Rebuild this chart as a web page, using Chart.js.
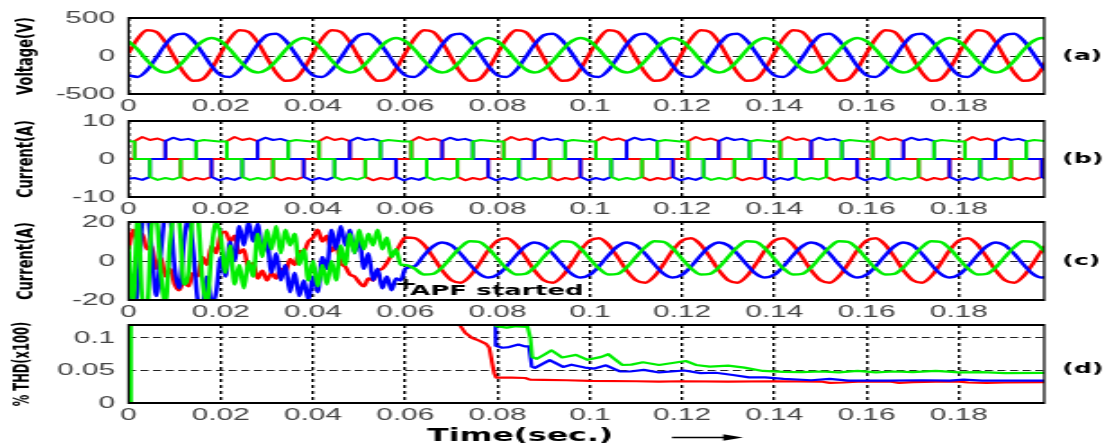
<!DOCTYPE html>
<html>
<head>
<meta charset="utf-8">
<title>APF waveforms</title>
<script src="https://cdn.jsdelivr.net/npm/chart.js@4/dist/chart.umd.min.js"></script>
<style>
  body { margin: 0; background: #fff; }
  #figure { position: relative; width: 1109px; height: 448px; overflow: hidden; background: #fff; }
  #figure canvas { position: absolute; left: 0; }
</style>
</head>
<body>
<div id="figure">
  <canvas id="panelA" width="616" height="116" style="top:0px;width:1109px;height:116px"></canvas>
  <canvas id="panelB" width="616" height="116" style="top:103px;width:1109px;height:116px"></canvas>
  <canvas id="panelC" width="616" height="118" style="top:204px;width:1109px;height:118px"></canvas>
  <canvas id="panelD" width="616" height="141" style="top:307px;width:1109px;height:141px"></canvas>
</div>
<script>
'use strict';
// ---------------------- Data -----------------
// (a) supply voltage, sampled every 2 ms
const tA = [
  0, 0.002, 0.004, 0.006, 0.008, 0.01, 0.012, 0.014, 0.016, 0.018,
  0.02, 0.022, 0.024, 0.026, 0.028, 0.03, 0.032, 0.034, 0.036, 0.038,
  0.04, 0.042, 0.044, 0.046, 0.048, 0.05, 0.052, 0.054, 0.056, 0.058,
  0.06, 0.062, 0.064, 0.066, 0.068, 0.07, 0.072, 0.074, 0.076, 0.078,
  0.08, 0.082, 0.084, 0.086, 0.088, 0.09, 0.092, 0.094, 0.096, 0.098,
  0.1, 0.102, 0.104, 0.106, 0.108, 0.11, 0.112, 0.114, 0.116, 0.118,
  0.12, 0.122, 0.124, 0.126, 0.128, 0.13, 0.132, 0.134, 0.136, 0.138,
  0.14, 0.142, 0.144, 0.146, 0.148, 0.15, 0.152, 0.154, 0.156, 0.158,
  0.16, 0.162, 0.164, 0.166, 0.168, 0.17, 0.172, 0.174, 0.176, 0.178,
  0.18, 0.182, 0.184, 0.186, 0.188, 0.19, 0.192, 0.194, 0.196, 0.198,
  0.2
];
const redA = [
  38, 231, 338, 318, 179, -26, -219, -326, -306, -167,
  38, 231, 338, 318, 179, -26, -219, -326, -306, -167,
  38, 231, 338, 318, 179, -26, -219, -326, -306, -167,
  38, 231, 338, 318, 179, -26, -219, -326, -306, -167,
  38, 231, 338, 318, 179, -26, -219, -326, -306, -167,
  38, 231, 338, 318, 179, -26, -219, -326, -306, -167,
  38, 231, 338, 318, 179, -26, -219, -326, -306, -167,
  38, 231, 338, 318, 179, -26, -219, -326, -306, -167,
  38, 231, 338, 318, 179, -26, -219, -326, -306, -167,
  38, 231, 338, 318, 179, -26, -219, -326, -306, -167,
  38
];
const blueA = [
  -255, -275, -187, -24, 151, 273, 293, 205, 42, -133,
  -255, -275, -187, -24, 151, 273, 293, 205, 42, -133,
  -255, -275, -187, -24, 151, 273, 293, 205, 42, -133,
  -255, -275, -187, -24, 151, 273, 293, 205, 42, -133,
  -255, -275, -187, -24, 151, 273, 293, 205, 42, -133,
  -255, -275, -187, -24, 151, 273, 293, 205, 42, -133,
  -255, -275, -187, -24, 151, 273, 293, 205, 42, -133,
  -255, -275, -187, -24, 151, 273, 293, 205, 42, -133,
  -255, -275, -187, -24, 151, 273, 293, 205, 42, -133,
  -255, -275, -187, -24, 151, 273, 293, 205, 42, -133,
  -255
];
const greenA = [
  196, 83, -58, -173, -218, -176, -63, 78, 193, 238,
  196, 83, -58, -173, -218, -176, -63, 78, 193, 238,
  196, 83, -58, -173, -218, -176, -63, 78, 193, 238,
  196, 83, -58, -173, -218, -176, -63, 78, 193, 238,
  196, 83, -58, -173, -218, -176, -63, 78, 193, 238,
  196, 83, -58, -173, -218, -176, -63, 78, 193, 238,
  196, 83, -58, -173, -218, -176, -63, 78, 193, 238,
  196, 83, -58, -173, -218, -176, -63, 78, 193, 238,
  196, 83, -58, -173, -218, -176, -63, 78, 193, 238,
  196, 83, -58, -173, -218, -176, -63, 78, 193, 238,
  196
];

// (b) load current, commutation instants listed twice (before / after)
const tB = [
  0,
  0.0013, 0.0013, 0.00297, 0.00463, 0.00463, 0.0063, 0.00797, 0.00797, 0.00963, 0.0113, 0.0113, 0.01297, 0.01463, 0.01463, 0.0163, 0.01797, 0.01797, 0.01963,
  0.0213, 0.0213, 0.02297, 0.02463, 0.02463, 0.0263, 0.02797, 0.02797, 0.02963, 0.0313, 0.0313, 0.03297, 0.03463, 0.03463, 0.0363, 0.03797, 0.03797, 0.03963,
  0.0413, 0.0413, 0.04297, 0.04463, 0.04463, 0.0463, 0.04797, 0.04797, 0.04963, 0.0513, 0.0513, 0.05297, 0.05463, 0.05463, 0.0563, 0.05797, 0.05797, 0.05963,
  0.0613, 0.0613, 0.06297, 0.06463, 0.06463, 0.0663, 0.06797, 0.06797, 0.06963, 0.0713, 0.0713, 0.07297, 0.07463, 0.07463, 0.0763, 0.07797, 0.07797, 0.07963,
  0.0813, 0.0813, 0.08297, 0.08463, 0.08463, 0.0863, 0.08797, 0.08797, 0.08963, 0.0913, 0.0913, 0.09297, 0.09463, 0.09463, 0.0963, 0.09797, 0.09797, 0.09963,
  0.1013, 0.1013, 0.10297, 0.10463, 0.10463, 0.1063, 0.10797, 0.10797, 0.10963, 0.1113, 0.1113, 0.11297, 0.11463, 0.11463, 0.1163, 0.11797, 0.11797, 0.11963,
  0.1213, 0.1213, 0.12297, 0.12463, 0.12463, 0.1263, 0.12797, 0.12797, 0.12963, 0.1313, 0.1313, 0.13297, 0.13463, 0.13463, 0.1363, 0.13797, 0.13797, 0.13963,
  0.1413, 0.1413, 0.14297, 0.14463, 0.14463, 0.1463, 0.14797, 0.14797, 0.14963, 0.1513, 0.1513, 0.15297, 0.15463, 0.15463, 0.1563, 0.15797, 0.15797, 0.15963,
  0.1613, 0.1613, 0.16297, 0.16463, 0.16463, 0.1663, 0.16797, 0.16797, 0.16963, 0.1713, 0.1713, 0.17297, 0.17463, 0.17463, 0.1763, 0.17797, 0.17797, 0.17963,
  0.1813, 0.1813, 0.18297, 0.18463, 0.18463, 0.1863, 0.18797, 0.18797, 0.18963, 0.1913, 0.1913, 0.19297, 0.19463, 0.19463, 0.1963, 0.19797, 0.19797, 0.19963
];
const redB = [
  0,
  0, 4.7, 5.8, 5, 5, 5.4, 4.7, 0, 0, 0, -4.7, -5.6, -5, -5, -5.4, -4.7, 0, 0,
  0, 4.7, 5.8, 5, 5, 5.4, 4.7, 0, 0, 0, -4.7, -5.6, -5, -5, -5.4, -4.7, 0, 0,
  0, 4.7, 5.8, 5, 5, 5.4, 4.7, 0, 0, 0, -4.7, -5.6, -5, -5, -5.4, -4.7, 0, 0,
  0, 4.7, 5.8, 5, 5, 5.4, 4.7, 0, 0, 0, -4.7, -5.6, -5, -5, -5.4, -4.7, 0, 0,
  0, 4.7, 5.8, 5, 5, 5.4, 4.7, 0, 0, 0, -4.7, -5.6, -5, -5, -5.4, -4.7, 0, 0,
  0, 4.7, 5.8, 5, 5, 5.4, 4.7, 0, 0, 0, -4.7, -5.6, -5, -5, -5.4, -4.7, 0, 0,
  0, 4.7, 5.8, 5, 5, 5.4, 4.7, 0, 0, 0, -4.7, -5.6, -5, -5, -5.4, -4.7, 0, 0,
  0, 4.7, 5.8, 5, 5, 5.4, 4.7, 0, 0, 0, -4.7, -5.6, -5, -5, -5.4, -4.7, 0, 0,
  0, 4.7, 5.8, 5, 5, 5.4, 4.7, 0, 0, 0, -4.7, -5.6, -5, -5, -5.4, -4.7, 0, 0,
  0, 4.7, 5.8, 5, 5, 5.4, 4.7, 0, 0, 0, -4.7, -5.6, -5, -5, -5.4, -4.7, 0, 0
];
const blueB = [
  -5.2,
  -5, -5, -5.5, -4.7, 0, 0, 0, 4.7, 5.6, 5, 5, 5.3, 4.7, 0, 0, 0, -4.7, -5.6,
  -5, -5, -5.5, -4.7, 0, 0, 0, 4.7, 5.6, 5, 5, 5.3, 4.7, 0, 0, 0, -4.7, -5.6,
  -5, -5, -5.5, -4.7, 0, 0, 0, 4.7, 5.6, 5, 5, 5.3, 4.7, 0, 0, 0, -4.7, -5.6,
  -5, -5, -5.5, -4.7, 0, 0, 0, 4.7, 5.6, 5, 5, 5.3, 4.7, 0, 0, 0, -4.7, -5.6,
  -5, -5, -5.5, -4.7, 0, 0, 0, 4.7, 5.6, 5, 5, 5.3, 4.7, 0, 0, 0, -4.7, -5.6,
  -5, -5, -5.5, -4.7, 0, 0, 0, 4.7, 5.6, 5, 5, 5.3, 4.7, 0, 0, 0, -4.7, -5.6,
  -5, -5, -5.5, -4.7, 0, 0, 0, 4.7, 5.6, 5, 5, 5.3, 4.7, 0, 0, 0, -4.7, -5.6,
  -5, -5, -5.5, -4.7, 0, 0, 0, 4.7, 5.6, 5, 5, 5.3, 4.7, 0, 0, 0, -4.7, -5.6,
  -5, -5, -5.5, -4.7, 0, 0, 0, 4.7, 5.6, 5, 5, 5.3, 4.7, 0, 0, 0, -4.7, -5.6,
  -5, -5, -5.5, -4.7, 0, 0, 0, 4.7, 5.6, 5, 5, 5.3, 4.7, 0, 0, 0, -4.7, -5.6
];
const greenB = [
  4.7,
  4.6, 0, 0, 0, -4.7, -5.5, -5, -5, -5.4, -4.7, 0, 0, 0, 4.6, 5, 4.8, 4.8, 4.6,
  4.6, 0, 0, 0, -4.7, -5.5, -5, -5, -5.4, -4.7, 0, 0, 0, 4.6, 5, 4.8, 4.8, 4.6,
  4.6, 0, 0, 0, -4.7, -5.5, -5, -5, -5.4, -4.7, 0, 0, 0, 4.6, 5, 4.8, 4.8, 4.6,
  4.6, 0, 0, 0, -4.7, -5.5, -5, -5, -5.4, -4.7, 0, 0, 0, 4.6, 5, 4.8, 4.8, 4.6,
  4.6, 0, 0, 0, -4.7, -5.5, -5, -5, -5.4, -4.7, 0, 0, 0, 4.6, 5, 4.8, 4.8, 4.6,
  4.6, 0, 0, 0, -4.7, -5.5, -5, -5, -5.4, -4.7, 0, 0, 0, 4.6, 5, 4.8, 4.8, 4.6,
  4.6, 0, 0, 0, -4.7, -5.5, -5, -5, -5.4, -4.7, 0, 0, 0, 4.6, 5, 4.8, 4.8, 4.6,
  4.6, 0, 0, 0, -4.7, -5.5, -5, -5, -5.4, -4.7, 0, 0, 0, 4.6, 5, 4.8, 4.8, 4.6,
  4.6, 0, 0, 0, -4.7, -5.5, -5, -5, -5.4, -4.7, 0, 0, 0, 4.6, 5, 4.8, 4.8, 4.6,
  4.6, 0, 0, 0, -4.7, -5.5, -5, -5, -5.4, -4.7, 0, 0, 0, 4.6, 5, 4.8, 4.8, 4.6
];

// (c) source current: 1 ms steps until the APF starts, then 2 ms
const tC = [
  0, 0.001, 0.002, 0.003, 0.004, 0.005, 0.006, 0.007, 0.008, 0.009,
  0.01, 0.011, 0.012, 0.013, 0.014, 0.015, 0.016, 0.017, 0.018, 0.019,
  0.02, 0.021, 0.022, 0.023, 0.024, 0.025, 0.026, 0.027, 0.028, 0.029,
  0.03, 0.031, 0.032, 0.033, 0.034, 0.035, 0.036, 0.037, 0.038, 0.039,
  0.04, 0.041, 0.042, 0.043, 0.044, 0.045, 0.046, 0.047, 0.048, 0.049,
  0.05, 0.051, 0.052, 0.053, 0.054, 0.055, 0.056, 0.057, 0.058, 0.059,
  0.06,
  0.062, 0.064, 0.066, 0.068, 0.07, 0.072, 0.074, 0.076, 0.078, 0.08,
  0.082, 0.084, 0.086, 0.088, 0.09, 0.092, 0.094, 0.096, 0.098, 0.1,
  0.102, 0.104, 0.106, 0.108, 0.11, 0.112, 0.114, 0.116, 0.118, 0.12,
  0.122, 0.124, 0.126, 0.128, 0.13, 0.132, 0.134, 0.136, 0.138, 0.14,
  0.142, 0.144, 0.146, 0.148, 0.15, 0.152, 0.154, 0.156, 0.158, 0.16,
  0.162, 0.164, 0.166, 0.168, 0.17, 0.172, 0.174, 0.176, 0.178, 0.18,
  0.182, 0.184, 0.186, 0.188, 0.19, 0.192, 0.194, 0.196, 0.198, 0.2
];
const redC = [
  6, 16, 10, 14, 6, 8, -4, 2, -8, -4,
  -12, -15, -10, -13, -6, -8, 2, -2, 8, 4,
  14, 15, 10, 13, 4, 6, -4, -1, -9, -5,
  -10, -6, -9, -4, -6, 1, -2, 5, 5, 10,
  12, 16, 10, 13, 5, 8, -1, -3, -7, -8,
  -11, -13, -9, -10, -5, -4, -1, 3, 5, 9,
  12,
  11.7, 8.4, 2.1, -4.9, -9.9, -11.1, -7.8, -1.5, 5.5, 10.5,
  11.7, 8.4, 2.1, -4.9, -9.9, -11.1, -7.8, -1.5, 5.5, 10.5,
  11.7, 8.4, 2.1, -4.9, -9.9, -11.1, -7.8, -1.5, 5.5, 10.5,
  11.7, 8.4, 2.1, -4.9, -9.9, -11.1, -7.8, -1.5, 5.5, 10.5,
  11.7, 8.4, 2.1, -4.9, -9.9, -11.1, -7.8, -1.5, 5.5, 10.5,
  11.7, 8.4, 2.1, -4.9, -9.9, -11.1, -7.8, -1.5, 5.5, 10.5,
  11.7, 8.4, 2.1, -4.9, -9.9, -11.1, -7.8, -1.5, 5.5, 10.5
];
const blueC = [
  -6, -22, -14, 20, 24, 6, -18, 4, 24, 22,
  -4, -14, 10, 22, 6, -20, -24, -8, -22, -16,
  2, -8, 10, 0, 18, 8, 20, 10, 19, 4,
  10, -6, 4, -10, -2, -16, -6, -18, -10, -20,
  -8, -16, 2, -4, 16, 6, 18, 8, 16, 4,
  12, -4, 4, -10, -4, -14, -8, -15, -9, -10,
  -4,
  -2.7, 2.8, 7.5, 9.5, 8, 3.7, -1.8, -6.5, -8.5, -7,
  -2.7, 2.8, 7.5, 9.5, 8, 3.7, -1.8, -6.5, -8.5, -7,
  -2.7, 2.8, 7.5, 9.5, 8, 3.7, -1.8, -6.5, -8.5, -7,
  -2.7, 2.8, 7.5, 9.5, 8, 3.7, -1.8, -6.5, -8.5, -7,
  -2.7, 2.8, 7.5, 9.5, 8, 3.7, -1.8, -6.5, -8.5, -7,
  -2.7, 2.8, 7.5, 9.5, 8, 3.7, -1.8, -6.5, -8.5, -7,
  -2.7, 2.8, 7.5, 9.5, 8, 3.7, -1.8, -6.5, -8.5, -7
];
const greenC = [
  8, -22, 24, -20, -24, 18, 22, -6, -22, 10,
  24, 20, -12, -6, 24, 22, -10, -22, 6, 20,
  12, -6, 8, -12, -2, -14, 0, -8, 14, 2,
  16, 6, 18, 4, 16, 8, 14, -2, 6, -10,
  0, -13, -2, -12, 0, -10, 8, -2, 14, 4,
  16, 6, 14, 8, 16, 6, 12, 2, 6, -2,
  -2,
  -3.9, -6.9, -6.6, -3.2, 2.1, 7.1, 10.1, 9.8, 6.4, 1.1,
  -3.9, -6.9, -6.6, -3.2, 2.1, 7.1, 10.1, 9.8, 6.4, 1.1,
  -3.9, -6.9, -6.6, -3.2, 2.1, 7.1, 10.1, 9.8, 6.4, 1.1,
  -3.9, -6.9, -6.6, -3.2, 2.1, 7.1, 10.1, 9.8, 6.4, 1.1,
  -3.9, -6.9, -6.6, -3.2, 2.1, 7.1, 10.1, 9.8, 6.4, 1.1,
  -3.9, -6.9, -6.6, -3.2, 2.1, 7.1, 10.1, 9.8, 6.4, 1.1,
  -3.9, -6.9, -6.6, -3.2, 2.1, 7.1, 10.1, 9.8, 6.4, 1.1
];
const apfT = [0.0601];
const apfY = [-11.8];

// (d) THD of source currents (values above the axis are off the chart)
const redThdT = [
  0.0705, 0.0718, 0.073, 0.0745, 0.076, 0.0775, 0.0782, 0.0788, 0.0793, 0.0797,
  0.083, 0.086, 0.087, 0.09, 0.095, 0.1, 0.11, 0.115, 0.12, 0.13,
  0.14, 0.15, 0.152, 0.155, 0.158, 0.165, 0.167, 0.17, 0.175, 0.18,
  0.182, 0.186, 0.19, 0.1985
];
const redThd = [
  0.2, 0.12, 0.108, 0.1, 0.096, 0.091, 0.085, 0.062, 0.045, 0.039,
  0.039, 0.0385, 0.036, 0.0355, 0.035, 0.034, 0.0335, 0.033, 0.0335, 0.033,
  0.0335, 0.033, 0.031, 0.0315, 0.033, 0.033, 0.031, 0.032, 0.033, 0.033,
  0.0315, 0.031, 0.0315, 0.032
];
const blueThdT = [
  0.0794, 0.0796, 0.081, 0.0825, 0.0845, 0.086, 0.0868, 0.0874, 0.0881, 0.0913,
  0.0942, 0.096, 0.0989, 0.101, 0.1035, 0.1065, 0.1087, 0.1117, 0.115, 0.1205,
  0.124, 0.1273, 0.131, 0.1345, 0.138, 0.142, 0.148, 0.152, 0.156, 0.165,
  0.172, 0.178, 0.181, 0.185, 0.1985
];
const blueThd = [
  0.2, 0.088, 0.085, 0.086, 0.09, 0.087, 0.087, 0.056, 0.054, 0.066,
  0.0555, 0.059, 0.0545, 0.053, 0.058, 0.0485, 0.0485, 0.051, 0.047, 0.05,
  0.046, 0.0465, 0.043, 0.0395, 0.0395, 0.037, 0.035, 0.037, 0.0345, 0.0345,
  0.035, 0.0345, 0.036, 0.0345, 0.0345
];
const greenThdT = [
  0.0005, 0.0005, 0.0794, 0.0797, 0.082, 0.084, 0.0865, 0.0871, 0.0875, 0.0885,
  0.09, 0.0917, 0.094, 0.097, 0.0995, 0.1025, 0.104, 0.107, 0.109, 0.1115,
  0.115, 0.1208, 0.123, 0.126, 0.13, 0.1335, 0.1375, 0.142, 0.146, 0.15,
  0.154, 0.158, 0.162, 0.166, 0.17, 0.175, 0.18, 0.185, 0.19, 0.1985
];
const greenThd = [
  0, 0.3, 0.3, 0.118, 0.116, 0.118, 0.117, 0.1, 0.071, 0.068,
  0.074, 0.081, 0.07, 0.074, 0.0665, 0.071, 0.075, 0.0585, 0.059, 0.0626,
  0.0585, 0.0646, 0.0585, 0.056, 0.0575, 0.0544, 0.0493, 0.048, 0.0475, 0.0485,
  0.047, 0.0495, 0.047, 0.0485, 0.0475, 0.0495, 0.047, 0.0475, 0.046, 0.0465
];

// ---------------------- Settings -----------------
const X_MAX = 0.1985;
const RED = '#ff0000';
const BLUE = '#0000ff';
const GREEN = '#00ee00';
const TICK_FONT = { family: '"Liberation Sans", Arial, sans-serif', size: 16.5 };
const TICK_COLOR = '#444';
const BOLD = '"DejaVu Sans", sans-serif';
const TAG_X = 590;

// -------------------- Helpers -----------------
function makeSeries(times, values) {
  return times.map((t, i) => ({ x: t, y: values[i] }));
}

function lineSet(label, color, times, values, width, smooth) {
  return {
    label: label,
    data: makeSeries(times, values),
    borderColor: color,
    backgroundColor: color,
    borderWidth: width,
    borderJoinStyle: 'round',
    pointRadius: 0,
    tension: 0,
    cubicInterpolationMode: smooth ? 'monotone' : 'default'
  };
}

function tickText(value) {
  return String(+value.toFixed(4));
}

function buildScales(yMin, yMax, yStep, yTitle, titleSize, xHeight) {
  return {
    x: {
      type: 'linear',
      min: 0,
      max: X_MAX,
      afterFit: (scale) => { scale.height = xHeight; },
      ticks: {
        stepSize: 0.02, includeBounds: false, autoSkip: false, maxRotation: 0,
        padding: 3, color: TICK_COLOR, font: TICK_FONT, callback: tickText
      },
      grid: { color: '#000', lineWidth: 1.4, drawTicks: false },
      border: { display: false, dash: [3, 3] }
    },
    y: {
      type: 'linear',
      min: yMin,
      max: yMax,
      afterFit: (scale) => { scale.width = 71.4; },
      ticks: {
        stepSize: yStep, includeBounds: false, autoSkip: false,
        padding: 7.5, color: TICK_COLOR, font: TICK_FONT, callback: tickText
      },
      grid: { color: '#222', lineWidth: 1, drawTicks: false },
      border: { display: false, dash: [4.5, 2.5] },
      title: {
        display: true,
        text: yTitle,
        color: '#000',
        font: { family: BOLD, weight: 'bold', size: titleSize },
        padding: { top: 6.5, bottom: 0 }
      }
    }
  };
}

// box round each plot, drawn over the traces
const framePlugin = {
  id: 'frame',
  afterDatasetsDraw(chart) {
    const ctx = chart.ctx;
    const area = chart.chartArea;
    ctx.save();
    ctx.strokeStyle = '#000';
    ctx.lineWidth = 1.8;
    ctx.beginPath();
    ctx.moveTo(area.left, area.top);
    ctx.lineTo(area.right, area.top);
    ctx.moveTo(area.left, area.bottom);
    ctx.lineTo(area.right, area.bottom);
    ctx.stroke();
    ctx.lineWidth = 1.2;
    ctx.beginPath();
    ctx.moveTo(area.left, area.top - 0.9);
    ctx.lineTo(area.left, area.bottom + 0.9);
    ctx.moveTo(area.right, area.top - 0.9);
    ctx.lineTo(area.right, area.bottom + 0.9);
    ctx.stroke();
    ctx.restore();
  }
};

// (a) (b) (c) (d) tags to the right of each plot
const tagPlugin = {
  id: 'tag',
  afterDraw(chart, args, opts) {
    const ctx = chart.ctx;
    ctx.save();
    ctx.fillStyle = '#000';
    ctx.font = 'bold 14px ' + BOLD;
    ctx.textAlign = 'left';
    ctx.textBaseline = 'middle';
    ctx.fillText(opts.text, TAG_X, chart.scales.y.getPixelForValue(opts.at));
    ctx.restore();
  }
};

function makePanel(canvasId, datasets, scales, tag, extraPlugins) {
  const context = document.getElementById(canvasId).getContext('2d');
  return new Chart(context, {
    type: 'line',
    data: { datasets: datasets },
    options: {
      responsive: false,
      animation: false,
      devicePixelRatio: 1,
      parsing: false,
      layout: { padding: { top: 18, right: 36, left: 0, bottom: 0 } },
      scales: scales,
      plugins: {
        legend: { display: false },
        tooltip: { enabled: false },
        tag: tag
      }
    },
    plugins: [framePlugin, tagPlugin].concat(extraPlugins || [])
  });
}

// -------------------- Annotations -----------------
const apfLabelPlugin = {
  id: 'apfLabel',
  afterDraw(chart) {
    const ctx = chart.ctx;
    ctx.save();
    ctx.fillStyle = '#000';
    ctx.font = 'bold 14.5px ' + BOLD;
    ctx.textAlign = 'left';
    ctx.textBaseline = 'middle';
    ctx.fillText('APF started', chart.scales.x.getPixelForValue(0.061), chart.scales.y.getPixelForValue(-15.5));
    ctx.restore();
  }
};

const timeLabelPlugin = {
  id: 'timeLabel',
  afterDraw(chart) {
    const ctx = chart.ctx;
    const x = chart.scales.x;
    const y = chart.chartArea.bottom + 33.5;
    ctx.save();
    ctx.fillStyle = '#000';
    ctx.strokeStyle = '#000';
    ctx.font = 'bold 17.5px ' + BOLD;
    ctx.textAlign = 'center';
    ctx.textBaseline = 'middle';
    ctx.fillText('Time(sec.)', x.getPixelForValue(0.0849), y);
    const x0 = x.getPixelForValue(0.1178);
    const x1 = x.getPixelForValue(0.1332);
    ctx.lineWidth = 1.3;
    ctx.beginPath();
    ctx.moveTo(x0, y + 1);
    ctx.lineTo(x1 - 6, y + 1);
    ctx.stroke();
    ctx.beginPath();
    ctx.moveTo(x1, y + 1);
    ctx.lineTo(x1 - 11, y - 2.2);
    ctx.lineTo(x1 - 11, y + 4.2);
    ctx.closePath();
    ctx.fill();
    ctx.restore();
  }
};

// -------------------- Charts -----------------
makePanel('panelA', [
  lineSet('Phase c', GREEN, tA, greenA, 2.5, true),
  lineSet('Phase b', BLUE, tA, blueA, 2.5, true),
  lineSet('Phase a', RED, tA, redA, 2.5, true)
], buildScales(-500, 500, 500, 'Voltage(V)', 13, 22), { text: '(a)', at: 0 });

makePanel('panelB', [
  lineSet('Phase c', GREEN, tB, greenB, 2, false),
  lineSet('Phase b', BLUE, tB, blueB, 2, false),
  lineSet('Phase a', RED, tB, redB, 2, false)
], buildScales(-10, 10, 10, 'Current(A)', 13, 22), { text: '(b)', at: 0 });

makePanel('panelC', [
  {
    label: 'APF started',
    data: makeSeries(apfT, apfY),
    showLine: false,
    pointStyle: 'cross',
    pointRadius: 5,
    pointBorderWidth: 2.2,
    borderColor: '#000',
    backgroundColor: '#000'
  },
  lineSet('Phase c', GREEN, tC, greenC, 2.5, true),
  lineSet('Phase b', BLUE, tC, blueC, 2.5, true),
  lineSet('Phase a', RED, tC, redC, 2.5, true)
], buildScales(-20, 20, 20, 'Current(A)', 13, 22), { text: '(c)', at: 0 }, [apfLabelPlugin]);

makePanel('panelD', [
  lineSet('Phase c', GREEN, greenThdT, greenThd, 2.2, false),
  lineSet('Phase b', BLUE, blueThdT, blueThd, 2.2, false),
  lineSet('Phase a', RED, redThdT, redThd, 2.2, false)
], buildScales(0, 0.12, 0.05, '% THD(x100)', 11.5, 45), { text: '(d)', at: 0.052 }, [timeLabelPlugin]);
</script>
</body>
</html>
